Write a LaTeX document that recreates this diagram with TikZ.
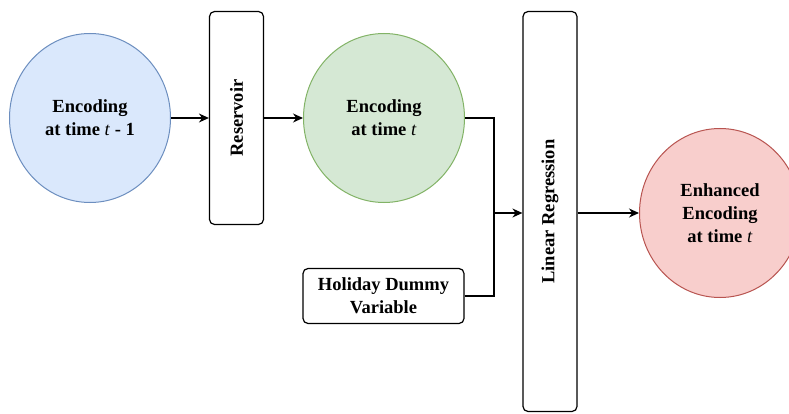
\documentclass[tikz,border=0pt]{standalone}
\usepackage{fontspec}
\setmainfont{Liberation Serif}
\usetikzlibrary{arrows.meta,shapes.geometric}
\definecolor{prevfill}{HTML}{DAE8FC}
\definecolor{prevline}{HTML}{6C8EBF}
\definecolor{curfill}{HTML}{D5E8D4}
\definecolor{curline}{HTML}{82B366}
\definecolor{enhfill}{HTML}{F8CECC}
\definecolor{enhline}{HTML}{B85450}
\newcommand{\tvar}{\textmd{\textit{t}}}
\tikzset{encnode/.style={ellipse,line width=1pt,
    minimum width=161pt,minimum height=169pt,inner sep=0pt,
    align=center,font=\bfseries\fontsize{18.5}{23}\selectfont}}
\tikzset{blockbox/.style={draw,line width=1.2pt,rounded corners=5pt,
    fill=white,inner sep=0pt,align=center,
    font=\bfseries\fontsize{18.5}{23}\selectfont}}
\tikzset{flowline/.style={line width=1.2pt,-{Stealth[length=10pt,width=9pt]}}}
\tikzset{joinline/.style={line width=1.2pt}}
\begin{document}
\begin{tikzpicture}

\useasboundingbox (0,0) rectangle (789pt,413pt);

\pgfmathsetmacro{\ymid}{295}
\pgfmathsetmacro{\yjoin}{200}
\pgfmathsetmacro{\xjoin}{494}

% 入力の符号化（t-1）
\node[encnode,draw=prevline,fill=prevfill] (encprev) at (90pt,\ymid pt)
    {Encoding\\at time \tvar{} - 1};

% リザバー
\node[blockbox,rotate=90,minimum width=213pt,minimum height=54pt]
    (res) at (236.5pt,\ymid pt) {Reservoir};

% 符号化（t）
\node[encnode,draw=curline,fill=curfill] (enccur) at (384pt,\ymid pt)
    {Encoding\\at time \tvar};

% 祝日ダミー変数
\node[blockbox,minimum width=161pt,minimum height=55pt]
    (holiday) at (383.5pt,117pt) {Holiday Dummy\\Variable};

% 線形回帰
\node[blockbox,rotate=90,minimum width=400pt,minimum height=54pt]
    (linreg) at (550pt,201.5pt) {Linear Regression};

% 強化された符号化
\node[encnode,draw=enhline,fill=enhfill] (enh) at (720pt,\yjoin pt)
    {Enhanced\\Encoding\\at time \tvar};

\coordinate (join) at (\xjoin pt,\yjoin pt);

% 接続線
\draw[flowline] (encprev.east) -- (res.north);
\draw[flowline] (res.south) -- (enccur.west);
\draw[joinline] (enccur.east) -| (join);
\draw[joinline] (holiday.east) -| (join);
\draw[flowline] (join) -- (join -| linreg.north);
\draw[flowline] (join -| linreg.south) -- (enh.west);

\end{tikzpicture}
\end{document}
